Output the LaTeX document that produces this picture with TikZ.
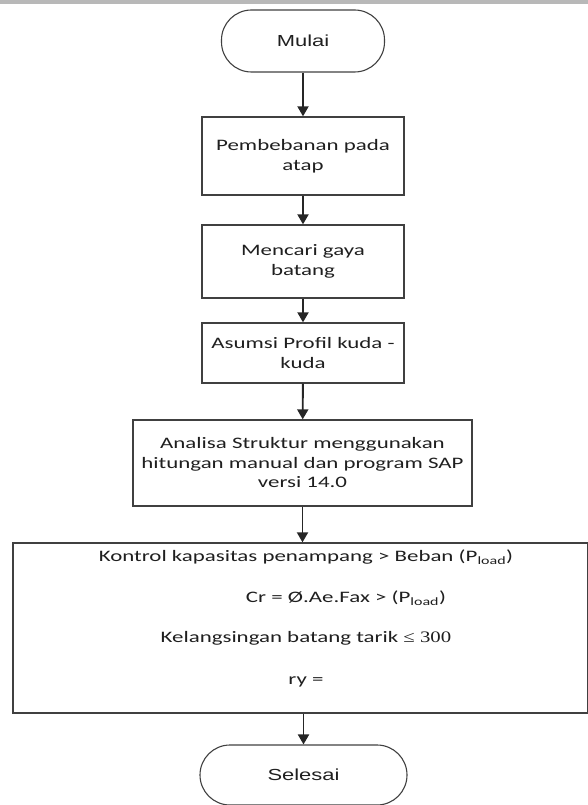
\documentclass[tikz,border=0pt]{standalone}
\usepackage{fontspec}
\setmainfont{Carlito}[FakeStretch=1.43]
\newfontfamily\arialfont{Liberation Sans}[FakeStretch=1.37]
\newfontfamily\timesfont{Liberation Serif}[FakeStretch=1.3]
\usetikzlibrary{arrows.meta}

\begin{document}
\begin{tikzpicture}[x=1pt, y=1pt,
  every node/.style={font=\fontsize{16}{19.5}\selectfont, text=black!88},
  proses/.style={draw=black!75, line width=1.3pt, fill=white, align=center, inner sep=0pt},
  terminal/.style={draw=black!75, line width=1.1pt, rounded corners=30pt, inner sep=0pt,
    font=\arialfont\fontsize{16}{19.5}\selectfont},
  panah/.style={-{Triangle[width=11pt,length=10pt]}, line width=1.9pt, draw=black!85}]
\useasboundingbox (0,0) rectangle (588,-805);
\fill[black!28] (0,0) rectangle (588,-4);
\node[terminal, minimum width=163pt, minimum height=62pt] (mulai) at (303,-41) {Mulai};
\node[proses, minimum width=202pt, minimum height=78pt] (beban) at (303,-156) {Pembebanan pada\\atap};
\node[proses, minimum width=202pt, minimum height=73pt] (gaya) at (303,-261.5) {Mencari gaya\\batang};
\node[proses, minimum width=202pt, minimum height=60pt] (profil) at (303,-353) {Asumsi Profil kuda -\\kuda};
\node[proses, minimum width=339pt, minimum height=86pt] (analisa) at (302.5,-463)
  {Analisa Struktur menggunakan\\hitungan manual dan program SAP\\versi 14.0};
\node[proses, minimum width=575pt, minimum height=170pt] (kontrol) at (300.5,-628) {};
\node (kapasitas) at (306,-557) {Kontrol kapasitas penampang > Beban (P\textsubscript{load})};
\node (cr) at (346,-598) {Cr = Ø.Ae.Fax > (P\textsubscript{load})};
\node (langsing) at (306,-638) {Kelangsingan batang tarik {\timesfont ≤ 300}};
\node (ry) at (306,-682) {ry =};
\node[terminal, minimum width=207pt, minimum height=60pt] (selesai) at (303.5,-775) {Selesai};
\draw[panah] (mulai) -- (beban);
\draw[panah] (beban) -- (gaya);
\draw[panah] (gaya) -- (profil);
\draw[panah] (profil) -- (analisa);
\draw[panah] (analisa.south) -- (analisa.south |- kontrol.north);
\draw[panah] (kontrol.south -| selesai.north) -- (selesai);
\end{tikzpicture}
\end{document}
